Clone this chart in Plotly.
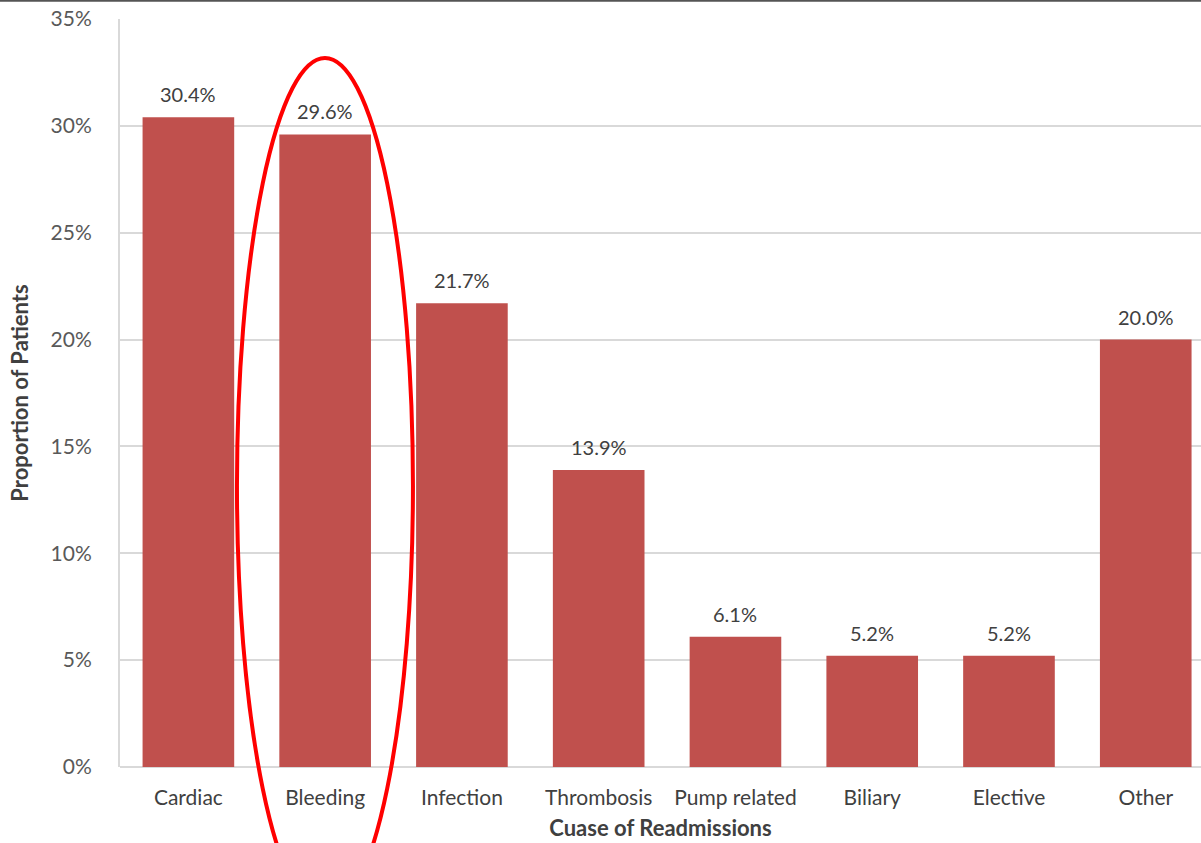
import plotly.graph_objects as go

# Causes of readmission and share of patients
causes = ["Cardiac", "Bleeding", "Infection", "Thrombosis", "Pump related",
          "Biliary", "Elective", "Other"]
proportions = [0.304, 0.296, 0.217, 0.139, 0.061, 0.052, 0.052, 0.200]
y_ticks = [0, 0.05, 0.10, 0.15, 0.20, 0.25, 0.30, 0.35]

FONT = "Lato, 'Open Sans', sans-serif"
BAR_RED = "#C0504D"
GRID = "#D9D9D9"
LABEL_SIZE = 21
TITLE_SIZE = 22

fig = go.Figure(
    go.Bar(
        x=causes,
        y=proportions,
        marker=dict(color=BAR_RED, line=dict(width=0)),
        hovertemplate="%{x}: %{y:.1%}<extra></extra>",
    )
)

# Value labels above each bar
for cause, value in zip(causes, proportions):
    fig.add_annotation(
        x=cause, y=value, text=f"{value:.1%}",
        showarrow=False, yanchor="bottom", yshift=9,
        font=dict(family=FONT, size=20, color="#404040"),
    )

fig.update_layout(
    width=1201,
    height=843,
    margin=dict(l=120, r=0, t=19, b=76),
    paper_bgcolor="white",
    plot_bgcolor="white",
    bargap=0.33,
    showlegend=False,
    font=dict(family=FONT, size=LABEL_SIZE, color="#595959"),
)

fig.update_xaxes(
    range=[-0.5, 7.404],
    showgrid=False,
    showline=False,
    ticks="",
    ticklabelstandoff=16,
    tickfont=dict(family=FONT, size=LABEL_SIZE, color="#404040"),
    title=dict(text="<b>Cuase of Readmissions</b>", standoff=12,
               font=dict(family=FONT, size=TITLE_SIZE, color="#404040")),
)

fig.update_yaxes(
    range=[0, 0.35],
    tickvals=y_ticks,
    tickformat=".0%",
    showgrid=True,
    gridcolor=GRID,
    gridwidth=2,
    zeroline=True,
    zerolinecolor=GRID,
    zerolinewidth=2,
    showline=True,
    linecolor=GRID,
    linewidth=2,
    ticks="",
    ticklabelstandoff=22,
    tickfont=dict(family=FONT, size=LABEL_SIZE, color="#595959"),
    title=dict(text="<b>Proportion of Patients</b>", standoff=16,
               font=dict(family=FONT, size=TITLE_SIZE, color="#404040")),
)

# Dark rule along the top of the page
fig.add_shape(type="line", xref="paper", yref="paper",
              x0=-0.2, x1=1.0, y0=1.0245, y1=1.0245,
              line=dict(color="#555555", width=2))

# Red ellipse highlighting the Bleeding category (runs off the bottom edge)
fig.add_shape(type="circle", xref="paper", yref="paper",
              x0=0.1082, x1=0.2710, y0=-0.1965, y1=0.9479,
              line=dict(color="#FF0000", width=4), layer="above")

fig.write_html("out.html")
